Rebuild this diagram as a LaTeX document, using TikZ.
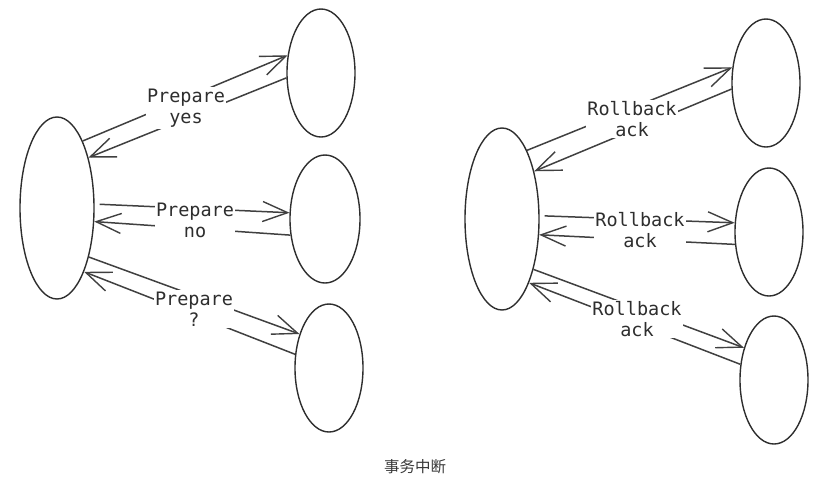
\documentclass[tikz,border=0pt]{standalone}
\usepackage{fontspec}
\newfontfamily\monof{DejaVu Sans Mono}
\newfontfamily\cjk{Noto Sans CJK SC}
\usetikzlibrary{shapes.geometric,arrows.meta}
\begin{document}
\begin{tikzpicture}[x=1pt,y=-1pt,
  ell/.style={draw=black!82,line width=1.4pt,ellipse,inner sep=0pt,minimum width=#1},
  coord/.style={ell=74pt,minimum height=182pt},
  part/.style={ell=68pt,minimum height=128pt},
  msg/.style={draw=black!75,line width=1.5pt,-{Straight Barb[length=25pt,width=20pt,line width=1.4pt]}},
  lbl/.style={fill=white,inner sep=1.5pt,align=center,font=\monof\fontsize{18.5}{21}\selectfont,text=black!82}]
\useasboundingbox (0,0) rectangle (833,488);
% left group
\node[coord] (C1) at (57,208) {};
\node[part] (A1) at (321,73) {};
\node[part,minimum width=70pt] (A2) at (325,219) {};
\node[part] (A3) at (329,368) {};
% right group
\node[coord] (C2) at (502,219) {};
\node[part] (B1) at (766,83) {};
\node[part] (B2) at (769,232) {};
\node[part] (B3) at (774,380) {};
% left arrows
\draw[msg] (C1.69) -- (A1.152);
\draw[msg] (A1.188) -- (C1.58);
\draw[msg,shorten <=5pt] (C1.6) -- (A2.170);
\draw[msg] (A2.205) -- (C1.-20);
\draw[msg] (C1.-57) -- (A3.131);
\draw[msg] (A3.158) -- (C1.-67);
% right arrows
\draw[msg] (C2.70) -- (B1.155);
\draw[msg] (B1.190) -- (C2.56);
\draw[msg,shorten <=5pt] (C2.5) -- (B2.165);
\draw[msg] (B2.200) -- (C2.-23);
\draw[msg] (C2.-58) -- (B3.133);
\draw[msg] (B3.155) -- (C2.-67);
% labels
\node[lbl] (l1) at (186,108) {Prepare\\yes};
\node[lbl] (l2) at (195,220) {Prepare\\no};
\node[lbl] (l3) at (194,309) {Prepare\\?};
\node[lbl] (r1) at (632,119) {Rollback\\ack};
\node[lbl] (r2) at (640,230) {Rollback\\ack};
\node[lbl] (r3) at (637,319) {Rollback\\ack};
\node[font=\cjk\fontsize{15.5}{18}\selectfont,text=black!78] (cap) at (415,467) {事务中断};
\end{tikzpicture}
\end{document}
